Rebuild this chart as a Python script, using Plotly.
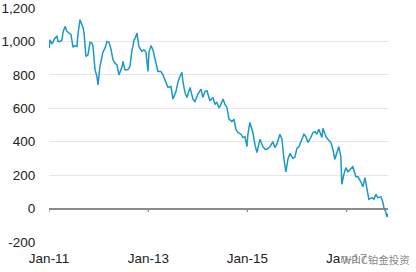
import plotly.graph_objects as go

dates = [
    "2011-01-03", "2011-01-08", "2011-01-23", "2011-01-30", "2011-02-14", "2011-03-01",
    "2011-03-08", "2011-03-23", "2011-04-07", "2011-04-14", "2011-04-29", "2011-05-13",
    "2011-05-21", "2011-06-12", "2011-06-27", "2011-07-11", "2011-07-26", "2011-08-02",
    "2011-08-17", "2011-09-01", "2011-09-08", "2011-09-16", "2011-09-30", "2011-10-15",
    "2011-10-30", "2011-11-13", "2011-11-21", "2011-12-06", "2011-12-20", "2011-12-28",
    "2012-01-11", "2012-02-02", "2012-02-17", "2012-03-03", "2012-03-18", "2012-04-01",
    "2012-04-16", "2012-05-01", "2012-05-15", "2012-05-30", "2012-06-21", "2012-06-29",
    "2012-07-13", "2012-08-04", "2012-08-19", "2012-09-03", "2012-09-10", "2012-09-18",
    "2012-09-25", "2012-10-10", "2012-10-24", "2012-11-15", "2012-11-30", "2012-12-15",
    "2012-12-30", "2013-01-06", "2013-01-21", "2013-02-04", "2013-02-27", "2013-03-13",
    "2013-04-04", "2013-04-19", "2013-05-11", "2013-05-26", "2013-06-17", "2013-07-02",
    "2013-07-24", "2013-08-07", "2013-08-22", "2013-09-06", "2013-09-13", "2013-09-28",
    "2013-10-13", "2013-11-04", "2013-11-26", "2013-12-11", "2014-01-02", "2014-01-24",
    "2014-02-07", "2014-02-22", "2014-03-09", "2014-03-31", "2014-04-22", "2014-05-07",
    "2014-05-21", "2014-06-05", "2014-06-13", "2014-07-05", "2014-07-19", "2014-08-03",
    "2014-08-18", "2014-09-09", "2014-09-24", "2014-10-08", "2014-10-23", "2014-11-14",
    "2014-11-29", "2014-12-14", "2014-12-28", "2015-01-05", "2015-01-19", "2015-02-10",
    "2015-02-25", "2015-03-12", "2015-04-03", "2015-04-25", "2015-05-10", "2015-05-24",
    "2015-06-16", "2015-07-08", "2015-07-22", "2015-08-06", "2015-08-28", "2015-09-12",
    "2015-09-27", "2015-10-11", "2015-10-26", "2015-11-10", "2015-12-02", "2015-12-17",
    "2015-12-31", "2016-01-15", "2016-02-06", "2016-02-21", "2016-03-07", "2016-03-21",
    "2016-04-12", "2016-04-27", "2016-05-12", "2016-05-26", "2016-06-10", "2016-07-02",
    "2016-07-10", "2016-08-01", "2016-08-15", "2016-09-07", "2016-09-21", "2016-10-06",
    "2016-10-21", "2016-11-04", "2016-11-19", "2016-11-26", "2016-12-11", "2016-12-26",
    "2017-01-10", "2017-02-01", "2017-02-15", "2017-03-10", "2017-03-24", "2017-04-15",
    "2017-04-30", "2017-05-15", "2017-05-29", "2017-06-13", "2017-07-05", "2017-07-20",
    "2017-08-04", "2017-08-18", "2017-09-10", "2017-09-24", "2017-10-02", "2017-10-16",
    "2017-10-24", "2017-10-31",
]

values = [
    960, 1010, 985, 995, 1020, 1030,
    1000, 1000, 1010, 1055, 1090, 1060,
    1055, 1040, 965, 975, 970, 1040,
    1130, 1100, 1085, 1050, 910, 920,
    995, 990, 970, 830, 790, 740,
    850, 935, 960, 1000, 995, 955,
    890, 870, 860, 800, 845, 880,
    830, 830, 850, 950, 970, 1010,
    1015, 1050, 970, 940, 950, 935,
    820, 935, 975, 950, 875, 820,
    820, 800, 755, 725, 730, 655,
    700, 755, 790, 815, 760, 695,
    665, 725, 655, 640, 685, 715,
    665, 700, 705, 645, 665, 625,
    635, 605, 610, 655, 625, 605,
    535, 520, 535, 475, 455, 445,
    425, 430, 370, 445, 515, 455,
    385, 335, 415, 370, 355, 355,
    370, 400, 365, 385, 445, 415,
    295, 220, 295, 330, 300, 308,
    360, 370, 415, 445, 430, 395,
    425, 455, 460, 445, 475, 425,
    480, 430, 415, 395, 355, 295,
    335, 370, 310, 145, 205, 245,
    220, 235, 250, 190, 190, 160,
    130, 185, 130, 55, 65, 55,
    85, 65, 70, 40, 5, -20,
    -50, -30,
]

x_ticks = ["2011-01-01", "2013-01-01", "2015-01-01", "2017-01-01"]
x_tick_labels = ["Jan-11", "Jan-13", "Jan-15", "Jan-17"]
y_ticks = [-200, 0, 200, 400, 600, 800, 1000, 1200]
y_tick_labels = ["-200", "0", "200", "400", "600", "800", "1,000", "1,200"]

FONT = "Liberation Sans, Arial, sans-serif"

fig = go.Figure()
fig.add_trace(go.Scatter(
    x=dates, y=values, mode="lines",
    line=dict(color="#1a99c6", width=1.5),
    showlegend=False, hoverinfo="skip",
))

# zero-line tick marks at the labelled dates
for t in x_ticks:
    fig.add_shape(type="line", xref="x", yref="y", x0=t, x1=t, y0=0, y1=-20,
                  line=dict(color="#8c8c8c", width=1.3))

fig.update_layout(
    width=416, height=272,
    margin=dict(l=49, r=28, t=8, b=30),
    paper_bgcolor="white", plot_bgcolor="white",
    font=dict(family=FONT, size=13.5, color="#222222"),
    xaxis=dict(
        type="date", automargin=False,
        range=["2011-01-01", "2017-11-01"],
        tickvals=x_ticks, ticktext=x_tick_labels,
        showgrid=False, zeroline=False, showline=False,
        ticks="outside", ticklen=4, tickcolor="rgba(0,0,0,0)",
    ),
    yaxis=dict(
        automargin=False,
        range=[-200, 1200],
        tickvals=y_ticks, ticktext=y_tick_labels,
        showgrid=True, gridcolor="#e6e6e6", gridwidth=1,
        zeroline=True, zerolinecolor="#8c8c8c", zerolinewidth=1.5,
        showline=False,
        ticks="outside", ticklen=10, tickcolor="rgba(0,0,0,0)",
    ),
    annotations=[dict(
        text="WPIC铂金投资", xref="paper", yref="paper",
        x=1.07, y=-0.035, xanchor="right", yanchor="top", showarrow=False,
        bgcolor="rgba(255,255,255,0.55)",
        font=dict(family="Noto Sans CJK SC, sans-serif", size=10.5, color="rgba(110,110,110,0.85)"),
    )],
)

fig.write_html("out.html")
